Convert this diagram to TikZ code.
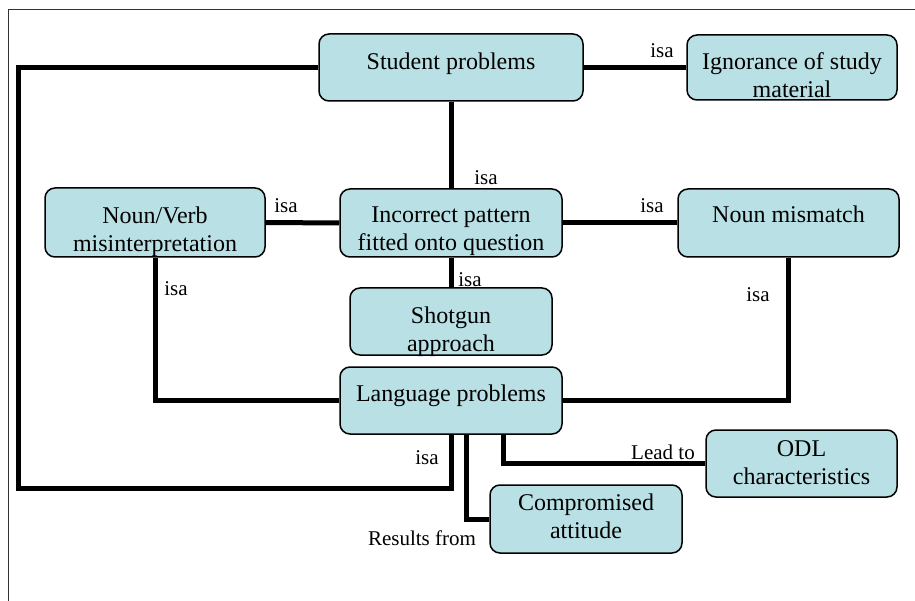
\documentclass[tikz,border=0pt]{standalone}
\usepackage{fontspec}
\setmainfont{Liberation Serif}
\definecolor{boxfill}{RGB}{185,224,228}
\tikzset{
  box/.style={draw=black, line width=1.5pt, fill=boxfill, rounded corners=10pt, inner sep=0pt},
  conn/.style={line width=5pt, draw=black},
  btxt/.style={font=\fontsize{24}{27.5}\selectfont, align=center, anchor=base, inner sep=0pt},
  lbl/.style={font=\fontsize{21}{24}\selectfont, anchor=base, inner sep=0pt},
  frameline/.style={line width=1pt, draw=black!80}
}
\begin{document}
\begin{tikzpicture}[x=1pt,y=-1pt]
\useasboundingbox (0,0) rectangle (915,601);
\draw[frameline] (915,10) -- (8,10) -- (8,601);

% boxes
\node[box, minimum width=264pt, minimum height=67pt] (sp)  at (451,67.5) {};
\node[box, minimum width=210pt, minimum height=65pt] (ig)  at (792,67.5) {};
\node[box, minimum width=220pt, minimum height=69pt] (nv)  at (155,222.5) {};
\node[box, minimum width=222pt, minimum height=68pt] (ip)  at (451,223) {};
\node[box, minimum width=221pt, minimum height=68pt] (nm)  at (788.5,223) {};
\node[box, minimum width=202pt, minimum height=67pt] (sg)  at (451,321.5) {};
\node[box, minimum width=222pt, minimum height=67pt] (lp)  at (451,400.5) {};
\node[box, minimum width=191pt, minimum height=67pt] (odl) at (801.5,463.5) {};
\node[box, minimum width=192pt, minimum height=68pt] (cp)  at (586,519) {};

% box texts (base anchor = baseline of the last line)
\node[btxt] (sp-t)  at ([yshift=-36pt]sp.north)  {Student problems};
\node[btxt] (ig-t)  at ([yshift=-63pt]ig.north)  {Ignorance of study\\material};
\node[btxt] (nv-t)  at ([yshift=-64pt]nv.north)  {Noun/Verb\\misinterpretation};
\node[btxt] (ip-t)  at ([yshift=-62pt]ip.north)  {Incorrect pattern\\fitted onto question};
\node[btxt] (nm-t)  at ([yshift=-34pt]nm.north)  {Noun mismatch};
\node[btxt] (sg-t)  at ([yshift=-64pt]sg.north)  {Shotgun\\approach};
\node[btxt] (lp-t)  at ([yshift=-35pt]lp.north)  {Language problems};
\node[btxt] (odl-t) at ([yshift=-55pt]odl.north) {ODL\\characteristics};
\node[btxt] (cp-t)  at ([yshift=-54pt]cp.north)  {Compromised\\attitude};

% connectors
\coordinate (cL) at (18,488);
\draw[conn] (sp.west) -| (cL) -| (lp.south);
\draw[conn] (sp.east) -- (ig.west);
\draw[conn] (sp.south) -- (ip.north);
\draw[conn] (nv.east) -- (ip.west);
\draw[conn] (ip.east) -- (nm.west);
\draw[conn] (ip.south) -- (sg.north);
\draw[conn] (nv.south) |- (lp.west);
\draw[conn] (nm.south) |- (lp.east);
\draw[conn] ([xshift=15pt]lp.south) |- (cp.west);
\draw[conn] ([xshift=52pt]lp.south) |- (odl.west);

% labels
\node[lbl] (l1)  at (662,58)  {isa};
\node[lbl] (l2)  at (486,185) {isa};
\node[lbl] (l3)  at (286,213) {isa};
\node[lbl] (l4)  at (652,213) {isa};
\node[lbl] (l5)  at (470,287) {isa};
\node[lbl] (l6)  at (176,296) {isa};
\node[lbl] (l7)  at (758,302) {isa};
\node[lbl] (l8)  at (427,464) {isa};
\node[lbl] (l9)  at (663,459) {Lead to};
\node[lbl] (l10) at (422,545) {Results from};
\end{tikzpicture}
\end{document}
